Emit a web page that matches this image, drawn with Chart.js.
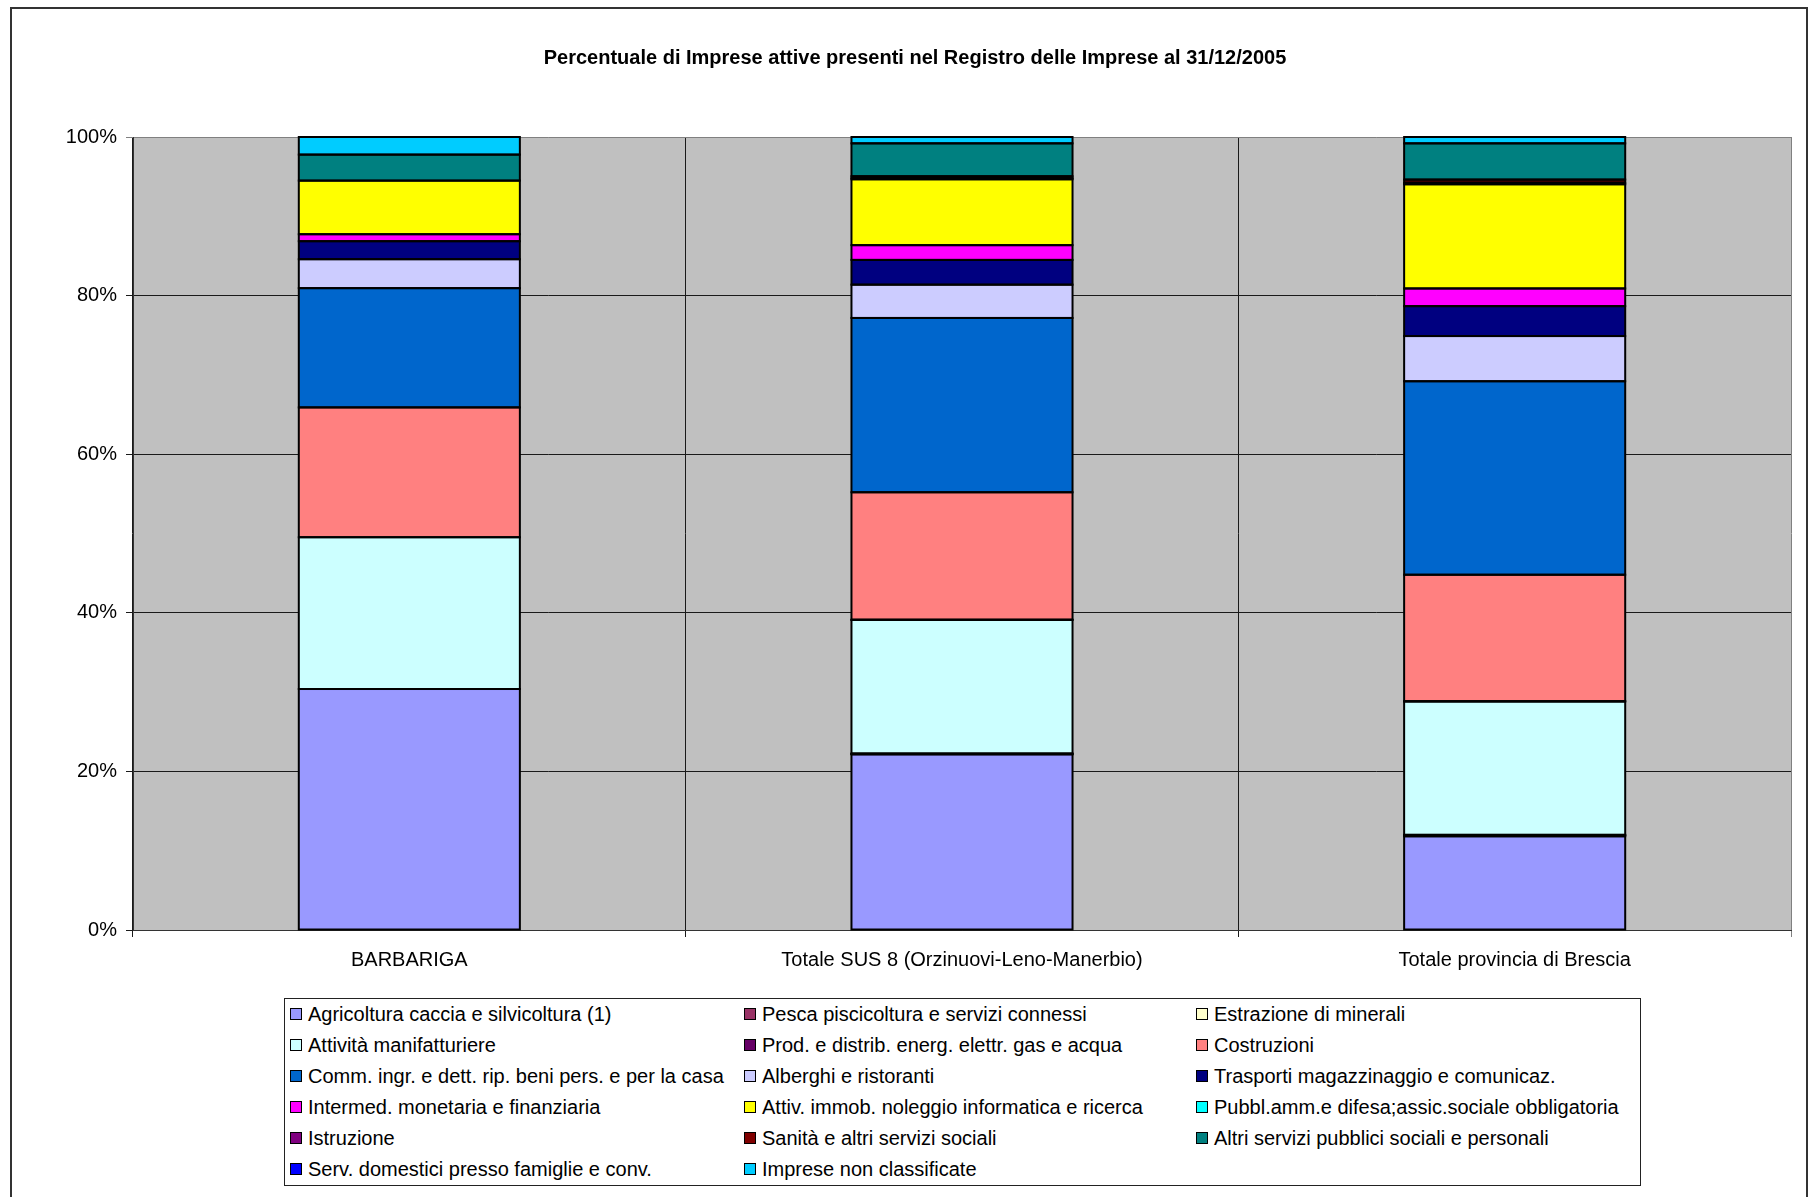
<!DOCTYPE html>
<html lang="it">
<head>
<meta charset="utf-8">
<title>Imprese attive 2005</title>
<script src="https://cdn.jsdelivr.net/npm/chart.js@4/dist/chart.umd.min.js"></script>
<style>
  html, body { margin: 0; padding: 0; background: #fff; }
  #wrap { position: relative; width: 1811px; height: 1197px; overflow: hidden; background: #fff; }
  #chart { position: absolute; left: 0; top: 0; }
  #frame { position: absolute; left: 10px; top: 7px; width: 1798px; height: 1300px;
           border: 2px solid #333; box-sizing: border-box; pointer-events: none; }
  #legend { position: absolute; left: 284px; top: 998px; width: 1357px; height: 188px;
            border: 1px solid #222; box-sizing: border-box; background: #fff;
            font-family: "Liberation Sans", Arial, sans-serif; font-size: 20px; color: #000; }
  .item { position: absolute; height: 24px; line-height: 24px; white-space: nowrap; }
  .swatch { position: absolute; left: 0; top: 6px; width: 12px; height: 12px;
            border: 1.5px solid #000; box-sizing: border-box; }
  .label { position: absolute; left: 18px; top: 0; }
</style>
</head>
<body>
<div id="wrap">
  <canvas id="chart" width="1811" height="1197"></canvas>
  <div id="legend"></div>
  <div id="frame"></div>
</div>
<script>
// Share of active firms by sector (% of total), registry at 31/12/2005
const categories = [
  'BARBARIGA',
  'Totale SUS 8 (Orzinuovi-Leno-Manerbio)',
  'Totale provincia di Brescia'
];

const sectors = [
  'Agricoltura caccia e silvicoltura (1)',
  'Pesca piscicoltura e servizi connessi',
  'Estrazione di minerali',
  'Attività manifatturiere',
  'Prod. e distrib. energ. elettr. gas e acqua',
  'Costruzioni',
  'Comm. ingr. e dett. rip. beni pers. e per la casa',
  'Alberghi e ristoranti',
  'Trasporti magazzinaggio e comunicaz.',
  'Intermed. monetaria e finanziaria',
  'Attiv. immob. noleggio informatica e ricerca',
  'Pubbl.amm.e difesa;assic.sociale obbligatoria',
  'Istruzione',
  'Sanità e altri servizi sociali',
  'Altri servizi pubblici sociali e personali',
  'Serv. domestici presso famiglie e conv.',
  'Imprese non classificate'
];

// one value per sector, same order as `sectors`
const barbariga = [30.39, 0, 0, 19.14, 0, 16.37, 15.04, 3.65, 2.27, 0.88, 6.76, 0, 0, 0, 3.28, 0, 2.22];
const sus8      = [22.15, 0.07, 0.03, 16.85, 0.03, 16.07, 21.98, 4.2, 3.12, 1.86, 8.31, 0, 0.13, 0.25, 4.15, 0, 0.8];
const brescia   = [11.82, 0.12, 0.06, 16.82, 0.03, 15.95, 24.4, 5.7, 3.77, 2.23, 13.14, 0, 0.2, 0.39, 4.57, 0, 0.8];

const yTickLabels = ['0%', '20%', '40%', '60%', '80%', '100%'];

// fill colours, one per sector
const palette = [
  '#9999FF', '#993366', '#FFFFCC', '#CCFFFF', '#660066', '#FF8080',
  '#0066CC', '#CCCCFF', '#000080', '#FF00FF', '#FFFF00', '#00FFFF',
  '#800080', '#800000', '#008080', '#0000FF', '#00CCFF'
];

const FONT = '"Liberation Sans", Arial, sans-serif';

const datasets = sectors.map((name, i) => ({
  label: name,
  data: [barbariga[i], sus8[i], brescia[i]],
  backgroundColor: palette[i],
  borderWidth: 0,
  inflateAmount: 0,
  barPercentage: 0.4,
  categoryPercentage: 1.0
}));

// grey plot-area fill behind the grid
const plotBackground = {
  id: 'plotBackground',
  beforeDraw(chart) {
    const { ctx, chartArea: a } = chart;
    ctx.save();
    ctx.fillStyle = '#C0C0C0';
    ctx.fillRect(a.left, a.top, a.right - a.left, a.bottom - a.top);
    ctx.restore();
  }
};

// black outline centred on every segment edge, so neighbouring
// segments share one line and very thin segments read as a dark band
const segmentOutline = {
  id: 'segmentOutline',
  afterDatasetsDraw(chart) {
    const { ctx } = chart;
    ctx.save();
    ctx.strokeStyle = '#000';
    ctx.lineWidth = 2;
    chart.data.datasets.forEach((ds, di) => {
      const meta = chart.getDatasetMeta(di);
      meta.data.forEach((bar, j) => {
        if (!ds.data[j]) return;
        const { x, y, base, width } = bar.getProps(['x', 'y', 'base', 'width'], true);
        const top = Math.min(y, base);
        ctx.strokeRect(x - width / 2, top, width, Math.abs(base - y));
      });
    });
    ctx.restore();
  }
};

const chart = new Chart(document.getElementById('chart'), {
  type: 'bar',
  data: { labels: categories, datasets },
  plugins: [plotBackground, segmentOutline],
  options: {
    responsive: false,
    devicePixelRatio: 1,
    animation: false,
    layout: { padding: { left: 39, right: 20, top: 0, bottom: 227 } },
    plugins: {
      legend: { display: false },
      tooltip: { enabled: false },
      title: {
        display: true,
        text: 'Percentuale di Imprese attive presenti nel Registro delle Imprese al 31/12/2005',
        color: '#000',
        font: { family: FONT, size: 20, weight: 'bold' },
        padding: { top: 46, bottom: 67 }
      }
    },
    scales: {
      x: {
        stacked: true,
        grid: {
          offset: true,
          color: c => (c.type === 'tick' ? '#1a1a1a' : '#808080'),
          lineWidth: 1,
          tickLength: 7
        },
        border: { color: '#333', width: 1 },
        ticks: {
          color: '#000',
          font: { family: FONT, size: 20 },
          padding: 11,
          maxRotation: 0,
          autoSkip: false
        },
        afterFit: s => { s.height = 40; }
      },
      y: {
        stacked: true,
        min: 0,
        max: 100,
        grid: {
          color: c => (c.tick && c.tick.value === 100 ? '#808080' : '#1a1a1a'),
          lineWidth: 1,
          tickLength: 7
        },
        border: { color: '#333', width: 1 },
        ticks: {
          stepSize: 20,
          color: '#000',
          font: { family: FONT, size: 20 },
          padding: 9,
          callback: (v, i) => yTickLabels[i]
        },
        afterFit: s => { s.width = 94; }
      }
    }
  }
});

// legend: three columns, filled row by row in dataset order
const legendEl = document.getElementById('legend');
const colX = [5, 459, 911];
const rowY0 = 3, rowStep = 31;
chart.data.datasets.forEach((ds, i) => {
  const item = document.createElement('div');
  item.className = 'item';
  item.style.left = colX[i % 3] + 'px';
  item.style.top = (rowY0 + Math.floor(i / 3) * rowStep) + 'px';
  const sw = document.createElement('span');
  sw.className = 'swatch';
  sw.style.background = ds.backgroundColor;
  const tx = document.createElement('span');
  tx.className = 'label';
  tx.textContent = ds.label;
  item.appendChild(sw);
  item.appendChild(tx);
  legendEl.appendChild(item);
});
</script>
</body>
</html>
